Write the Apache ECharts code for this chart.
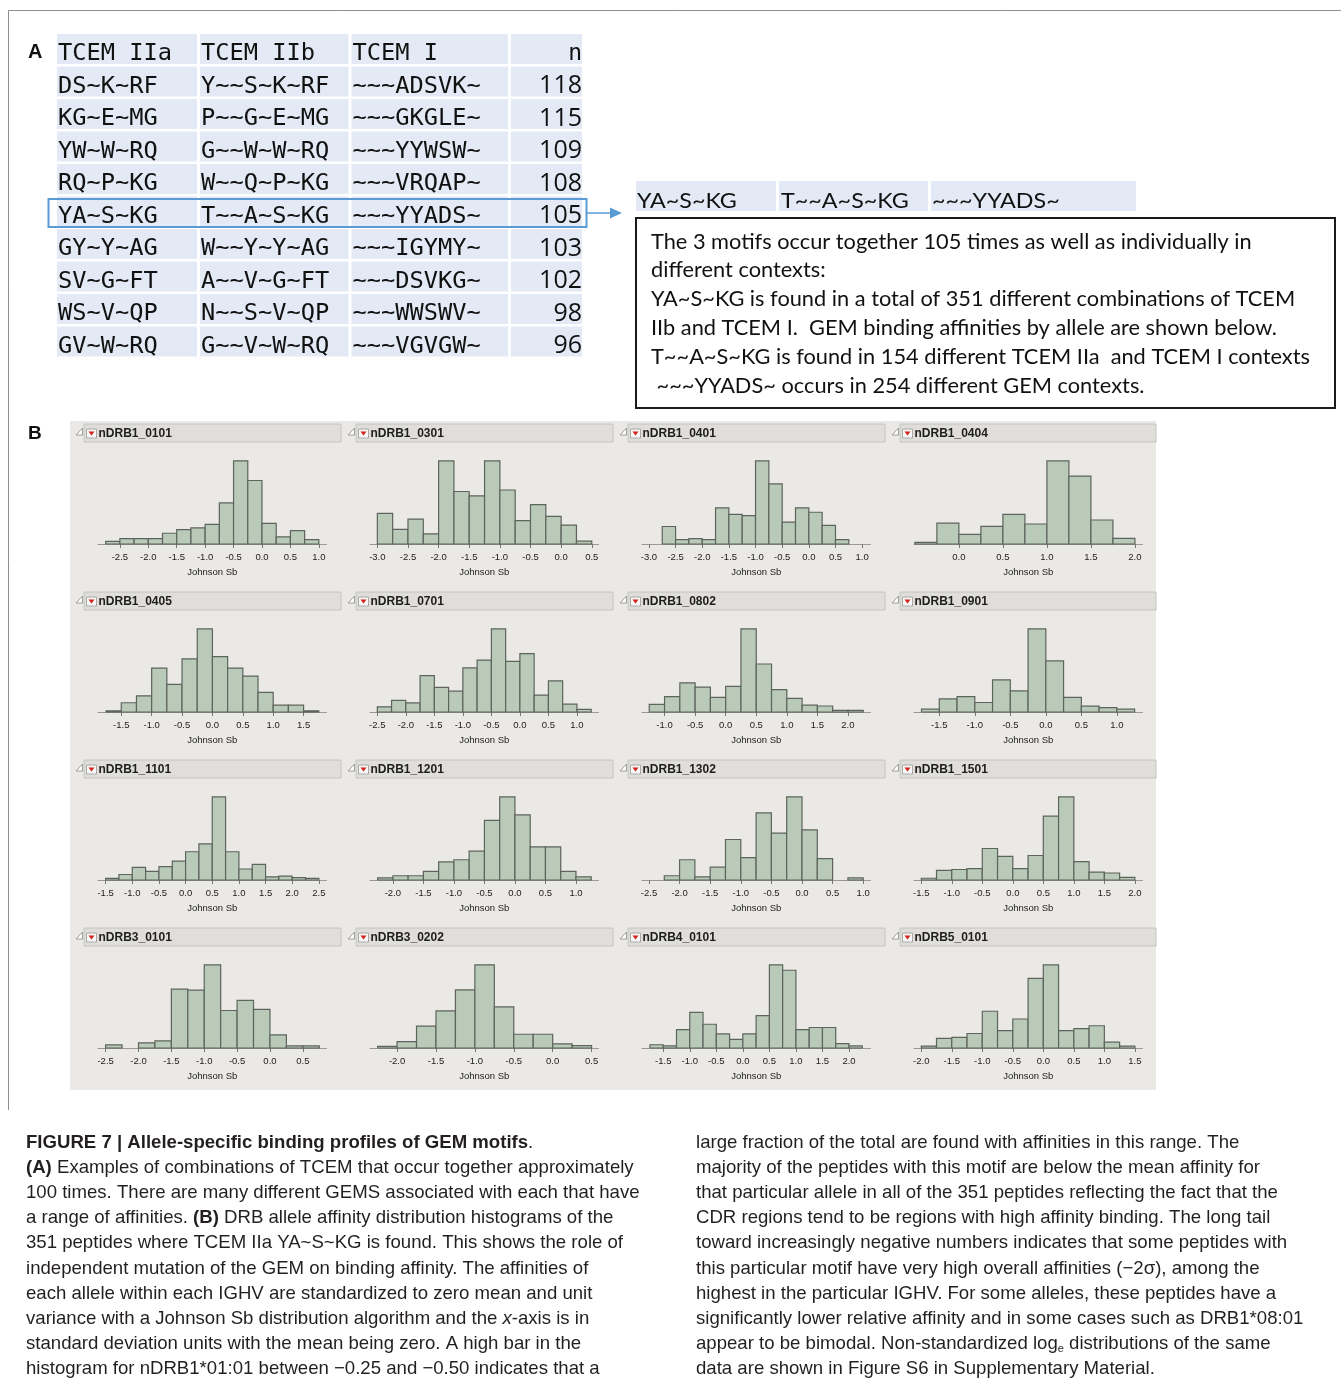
<!DOCTYPE html>
<html>
<head>
<meta charset="utf-8">
<script src="https://cdn.jsdelivr.net/npm/echarts@6/dist/echarts.min.js"></script>
<style>
  html, body { margin: 0; padding: 0; background: #ffffff; }
  #fig { width: 1341px; height: 1386px; }
</style>
</head>
<body>
<div id="fig"></div>
<script>
// ---------- Panel A: TCEM motif combinations ----------
const tcemIIa = ['DS~K~RF', 'KG~E~MG', 'YW~W~RQ', 'RQ~P~KG', 'YA~S~KG', 'GY~Y~AG', 'SV~G~FT', 'WS~V~QP', 'GV~W~RQ'];
const tcemIIb = ['Y~~S~K~RF', 'P~~G~E~MG', 'G~~W~W~RQ', 'W~~Q~P~KG', 'T~~A~S~KG', 'W~~Y~Y~AG', 'A~~V~G~FT', 'N~~S~V~QP', 'G~~V~W~RQ'];
const tcemI = ['~~~ADSVK~', '~~~GKGLE~', '~~~YYWSW~', '~~~VRQAP~', '~~~YYADS~', '~~~IGYMY~', '~~~DSVKG~', '~~~WWSWV~', '~~~VGVGW~'];
const nTogether = [118, 115, 109, 108, 105, 103, 102, 98, 96];
const highlightRow = 4;

const motifNote = [
  'The 3 motifs occur together 105 times as well as individually in',
  'different contexts:',
  'YA~S~KG is found in a total of 351 different combinations of TCEM',
  'IIb and TCEM I.  GEM binding affinities by allele are shown below.',
  'T~~A~S~KG is found in 154 different TCEM IIa  and TCEM I contexts',
  ' ~~~YYADS~ occurs in 254 different GEM contexts.'
];

// ---------- Panel B: affinity histograms (Johnson Sb units) ----------
const alleles = ['nDRB1_0101', 'nDRB1_0301', 'nDRB1_0401', 'nDRB1_0404',
                 'nDRB1_0405', 'nDRB1_0701', 'nDRB1_0802', 'nDRB1_0901',
                 'nDRB1_1101', 'nDRB1_1201', 'nDRB1_1302', 'nDRB1_1501',
                 'nDRB3_0101', 'nDRB3_0202', 'nDRB4_0101', 'nDRB5_0101'];
const binWidth = 0.25;
// left edge of the first bin of each histogram
const binStart = [-2.75, -3.0, -2.75, -0.5, -1.75, -2.5, -1.25, -1.75,
                  -1.5, -2.25, -2.25, -1.5, -2.5, -2.25, -1.75, -2.0];
// peptide counts per 0.25-wide bin
const cnt0101 = [3, 6, 6, 6, 12, 16, 18, 22, 46, 93, 71, 23, 8, 15, 5];
const cnt0301 = [21, 10, 17, 7, 57, 36, 33, 57, 37, 16, 27, 19, 13, 2];
const cnt0401 = [16, 4, 5, 4, 33, 27, 26, 76, 55, 20, 33, 29, 17, 4];
const cnt0404 = [2, 26, 12, 22, 37, 25, 104, 85, 30, 7];
const cnt0405 = [1, 8, 14, 38, 24, 46, 72, 48, 38, 31, 17, 6, 6, 1];
const cnt0701 = [4, 9, 7, 28, 19, 16, 34, 40, 64, 39, 45, 13, 24, 6, 2];
const cnt0802 = [9, 18, 34, 29, 17, 30, 97, 56, 26, 16, 8, 7, 2, 2];
const cnt0901 = [4, 18, 21, 13, 44, 29, 114, 70, 20, 8, 6, 4];
const cnt1101 = [2, 7, 16, 11, 17, 24, 36, 46, 106, 36, 14, 20, 4, 5, 3, 2];
const cnt1201 = [2, 4, 4, 8, 17, 19, 27, 56, 78, 61, 31, 31, 8, 3];
const cnt1302 = [4, 19, 3, 12, 38, 21, 63, 44, 78, 47, 20, 0, 2];
const cnt1501 = [2, 11, 12, 13, 36, 27, 13, 28, 73, 95, 21, 9, 8, 3];
const cntB3_0101 = [3, 0, 5, 7, 58, 57, 82, 37, 47, 38, 13, 2, 2];
const cntB3_0202 = [2, 8, 27, 46, 72, 103, 51, 17, 17, 5, 3];
const cntB4_0101 = [3, 2, 17, 33, 22, 13, 8, 13, 30, 77, 72, 17, 19, 19, 4, 2];
const cntB5_0101 = [2, 10, 11, 15, 38, 18, 30, 72, 86, 18, 20, 23, 6, 2];
const binCounts = [cnt0101, cnt0301, cnt0401, cnt0404, cnt0405, cnt0701, cnt0802, cnt0901,
                   cnt1101, cnt1201, cnt1302, cnt1501, cntB3_0101, cntB3_0202, cntB4_0101, cntB5_0101];
// axis extents
const xMin = [-2.885, -3.12, -3.13, -0.51, -1.883, -2.628, -1.369, -1.856,
              -1.643, -2.375, -2.614, -1.619, -2.616, -2.348, -1.9, -2.119];
const xMax = [1.135, 0.61, 1.157, 2.086, 1.877, 1.378, 2.369, 1.361,
              2.643, 1.369, 1.119, 2.125, 0.86, 0.589, 2.405, 1.625];
// tick labels
const tickValues = [
  [-2.5, -2.0, -1.5, -1.0, -0.5, 0.0, 0.5, 1.0],
  [-3.0, -2.5, -2.0, -1.5, -1.0, -0.5, 0.0, 0.5],
  [-3.0, -2.5, -2.0, -1.5, -1.0, -0.5, 0.0, 0.5, 1.0],
  [0.0, 0.5, 1.0, 1.5, 2.0],
  [-1.5, -1.0, -0.5, 0.0, 0.5, 1.0, 1.5],
  [-2.5, -2.0, -1.5, -1.0, -0.5, 0.0, 0.5, 1.0],
  [-1.0, -0.5, 0.0, 0.5, 1.0, 1.5, 2.0],
  [-1.5, -1.0, -0.5, 0.0, 0.5, 1.0],
  [-1.5, -1.0, -0.5, 0.0, 0.5, 1.0, 1.5, 2.0, 2.5],
  [-2.0, -1.5, -1.0, -0.5, 0.0, 0.5, 1.0],
  [-2.5, -2.0, -1.5, -1.0, -0.5, 0.0, 0.5, 1.0],
  [-1.5, -1.0, -0.5, 0.0, 0.5, 1.0, 1.5, 2.0],
  [-2.5, -2.0, -1.5, -1.0, -0.5, 0.0, 0.5],
  [-2.0, -1.5, -1.0, -0.5, 0.0, 0.5],
  [-1.5, -1.0, -0.5, 0.0, 0.5, 1.0, 1.5, 2.0],
  [-2.0, -1.5, -1.0, -0.5, 0.0, 0.5, 1.0, 1.5]
];

// ---------- Caption ----------
const captionLeft = [
  '{b|FIGURE 7 | Allele-specific binding profiles of GEM motifs}.',
  '{b|(A)} Examples of combinations of TCEM that occur together approximately',
  '100 times. There are many different GEMS associated with each that have',
  'a range of affinities. {b|(B)} DRB allele affinity distribution histograms of the',
  '351 peptides where TCEM IIa YA~S~KG is found. This shows the role of',
  'independent mutation of the GEM on binding affinity. The affinities of',
  'each allele within each IGHV are standardized to zero mean and unit',
  'variance with a Johnson Sb distribution algorithm and the {i|x}-axis is in',
  'standard deviation units with the mean being zero. A high bar in the',
  'histogram for nDRB1*01:01 between \u22120.25 and \u22120.50 indicates that a'
];
const captionRight = [
  'large fraction of the total are found with affinities in this range. The',
  'majority of the peptides with this motif are below the mean affinity for',
  'that particular allele in all of the 351 peptides reflecting the fact that the',
  'CDR regions tend to be regions with high affinity binding. The long tail',
  'toward increasingly negative numbers indicates that some peptides with',
  'this particular motif have very high overall affinities (\u22122\u03c3), among the',
  'highest in the particular IGHV. For some alleles, these peptides have a',
  'significantly lower relative affinity and in some cases such as DRB1*08:01',
  'appear to be bimodal. Non-standardized log{s|e} distributions of the same',
  'data are shown in Figure S6 in Supplementary Material.'
];

// ---------- drawing ----------
const SANS = '"Liberation Sans", Arial, sans-serif';
const MONO = '"DejaVu Sans Mono", monospace';
const HUMAN = 'Lato, "Open Sans", sans-serif';

const elements = [];

function text(x, y, str, o) {
  o = o || {};
  const align = o.align || 'left';
  const va = o.va || 'middle';
  const el = {
    type: 'text', x: x, y: y, z: o.z == null ? 5 : o.z,
    style: {
      text: str, x: 0, y: 0,
      fontSize: o.size || 12, fontFamily: o.family || SANS,
      fontWeight: o.weight || 'normal', fontStyle: o.style || 'normal',
      fill: o.color || '#111',
      align: align, verticalAlign: va, textAlign: align, textVerticalAlign: va
    }
  };
  if (o.rich) el.style.rich = o.rich;
  if (o.scaleX) el.scaleX = o.scaleX;
  elements.push(el);
}
function rect(x, y, w, h, style, z) {
  elements.push({ type: 'rect', z: z == null ? 1 : z, shape: { x: x, y: y, width: w, height: h }, style: style });
}

// outer frame
elements.push({ type: 'polyline', z: 1, shape: { points: [[8.5, 1110], [8.5, 10.5], [1341, 10.5]] },
  style: { stroke: '#8f8f8f', lineWidth: 1, fill: null } });

// panel letters
text(28, 52, 'A', { size: 20, weight: 'bold', family: SANS });
text(28, 434, 'B', { size: 19, weight: 'bold', family: SANS });

// table of motif combinations
const colX = [57, 200, 351.5, 511];
const colW = [140, 148.5, 156.5, 71];
const band = '#e3eaf5';
const headTop = 34, rowTop0 = 66.5, rowPitch = 32.5, rowH = 30;
const textDrop = 20.5;
for (let c = 0; c < 4; c++) rect(colX[c], headTop, colW[c], rowH, { fill: band });
['TCEM IIa', 'TCEM IIb', 'TCEM I'].forEach(function (h, c) {
  text(colX[c] + 1, headTop + textDrop, h, { size: 23, family: MONO, color: '#111', scaleX: 1.03 });
});
text(582, headTop + textDrop, 'n', { size: 23, family: MONO, align: 'right' });
for (let i = 0; i < tcemIIa.length; i++) {
  const top = rowTop0 + i * rowPitch;
  for (let c = 0; c < 4; c++) rect(colX[c], top, colW[c], rowH, { fill: band });
  text(colX[0] + 1, top + textDrop, tcemIIa[i], { size: 23, family: MONO, scaleX: 1.03 });
  text(colX[1] + 1, top + textDrop, tcemIIb[i], { size: 23, family: MONO, scaleX: 1.03 });
  text(colX[2] + 1, top + textDrop, tcemI[i], { size: 23, family: MONO, scaleX: 1.03 });
  text(582, top + textDrop - 1, String(nTogether[i]), { size: 25, family: '"Open Sans", sans-serif', align: 'right' });
}
// highlighted combination and pointer
const hlTop = rowTop0 + highlightRow * rowPitch;
rect(48.5, hlTop + 2.5, 538, 28, { fill: 'none', stroke: '#5b9bd5', lineWidth: 2 }, 6);
elements.push({ type: 'line', z: 6, shape: { x1: 587, y1: hlTop + 16.5, x2: 612, y2: hlTop + 16.5 },
  style: { stroke: '#5b9bd5', lineWidth: 1.5 } });
elements.push({ type: 'polygon', z: 6, shape: { points: [[610, hlTop + 11], [622, hlTop + 16.5], [610, hlTop + 22]] },
  style: { fill: '#5b9bd5' } });

// the highlighted motifs, repeated beside the note
const miniX = [636, 779, 931], miniW = [140, 149, 205];
for (let c = 0; c < 3; c++) rect(miniX[c], 181, miniW[c], 30, { fill: band });
text(637, 200.5, tcemIIa[highlightRow], { size: 22, family: HUMAN, scaleX: 1.06 });
text(781, 200.5, tcemIIb[highlightRow], { size: 22, family: HUMAN, scaleX: 1.06 });
text(932, 200.5, tcemI[highlightRow], { size: 22, family: HUMAN, scaleX: 1.06 });

// note box
rect(636, 218, 699, 190, { fill: '#fff', stroke: '#1a1a1a', lineWidth: 2 }, 2);
motifNote.forEach(function (line, k) {
  text(651, 241.5 + k * 28.8, line, { size: 22, family: HUMAN, color: '#111', scaleX: 0.99 });
});

// panel B background
rect(70, 421, 1086, 669, { fill: '#ebe9e6' }, 0);

// histogram panel headers
const colLeft = 98, colPitch = 272, rowTopB = 449.5, rowPitchB = 168;
const plotW = 228.5, plotH = 94.5;
alleles.forEach(function (name, i) {
  const c = i % 4, r = Math.floor(i / 4);
  const hx = 84 + c * colPitch, hy = 424 + r * rowPitchB;
  rect(hx, hy, Math.min(257, 1156 - hx), 18, { fill: '#e0deda', stroke: '#c6c4c0', lineWidth: 1 }, 2);
  elements.push({ type: 'polygon', z: 3, shape: { points: [[hx - 1.5, hy + 4], [hx - 1.5, hy + 11], [hx - 8, hy + 11]] },
    style: { fill: '#fafafa', stroke: '#8a8a8a', lineWidth: 0.8 } });
  rect(hx + 2.5, hy + 5, 10, 9, { fill: '#f6f6f6', stroke: '#9a9a9a', lineWidth: 0.8 }, 3);
  elements.push({ type: 'polygon', z: 4, shape: { points: [[hx + 4.5, hy + 7.5], [hx + 10.5, hy + 7.5], [hx + 7.5, hy + 11.5]] },
    style: { fill: '#d41f1f' } });
  text(hx + 14.5, hy + 9.5, name, { size: 12, weight: 'bold', family: SANS, color: '#1e1e1e' });
});

// caption
const CAP = 18.6;
const capRich = {
  b: { fontWeight: 'bold', fontSize: CAP, fontFamily: SANS, fill: '#231f20' },
  i: { fontStyle: 'italic', fontSize: CAP, fontFamily: SANS, fill: '#231f20' },
  s: { fontSize: 11, fontFamily: SANS, fill: '#231f20', padding: [9, 0, 0, 0] }
};
captionLeft.forEach(function (line, k) {
  text(26, 1142.5 + k * 25.2, line, { size: CAP, family: SANS, color: '#231f20', rich: capRich });
});
captionRight.forEach(function (line, k) {
  text(696, 1142.5 + k * 25.2, line, { size: CAP, family: SANS, color: '#231f20', rich: capRich });
});

// ---------- histograms ----------
const grids = [], xAxes = [], yAxes = [], series = [];
alleles.forEach(function (name, i) {
  const c = i % 4, r = Math.floor(i / 4);
  grids.push({
    left: colLeft + c * colPitch, top: rowTopB + r * rowPitchB, width: plotW, height: plotH,
    show: true, backgroundColor: '#ffffff', borderColor: '#a3a3a3', borderWidth: 1, containLabel: false
  });
  xAxes.push({
    gridIndex: i, type: 'value', min: xMin[i], max: xMax[i],
    axisLine: { show: true, onZero: false, lineStyle: { color: '#9a9a9a', width: 1 } },
    axisTick: { show: true, customValues: tickValues[i], length: 4, lineStyle: { color: '#777' } },
    axisLabel: {
      customValues: tickValues[i], margin: 8, fontSize: 9.5, color: '#222', fontFamily: SANS,
      formatter: function (v) { return v.toFixed(1); }
    },
    splitLine: { show: false },
    name: 'Johnson Sb', nameLocation: 'middle', nameGap: 23,
    nameTextStyle: { fontSize: 9.5, color: '#222', fontFamily: SANS }
  });
  const counts = binCounts[i];
  yAxes.push({ gridIndex: i, type: 'value', min: 0, max: Math.max.apply(null, counts) / 0.88, show: false });
  series.push({
    type: 'custom', name: name, xAxisIndex: i, yAxisIndex: i,
    encode: { x: [0, 1], y: 2 },
    data: counts.map(function (n, k) { return [binStart[i] + k * binWidth, binStart[i] + (k + 1) * binWidth, n]; }),
    renderItem: function (params, api) {
      const n = api.value(2);
      if (!(n > 0)) return { type: 'group', children: [] };
      const topLeft = api.coord([api.value(0), n]);
      const baseRight = api.coord([api.value(1), 0]);
      return {
        type: 'rect',
        shape: { x: topLeft[0], y: topLeft[1], width: baseRight[0] - topLeft[0], height: baseRight[1] - topLeft[1] },
        style: { fill: '#b9cbb8', stroke: '#5d635d', lineWidth: 1.2 }
      };
    }
  });
});

const chart = echarts.init(document.getElementById('fig'), null, { renderer: 'canvas' });
chart.setOption({
  animation: false,
  backgroundColor: '#ffffff',
  graphic: { elements: elements },
  grid: grids,
  xAxis: xAxes,
  yAxis: yAxes,
  series: series
});
</script>
</body>
</html>
